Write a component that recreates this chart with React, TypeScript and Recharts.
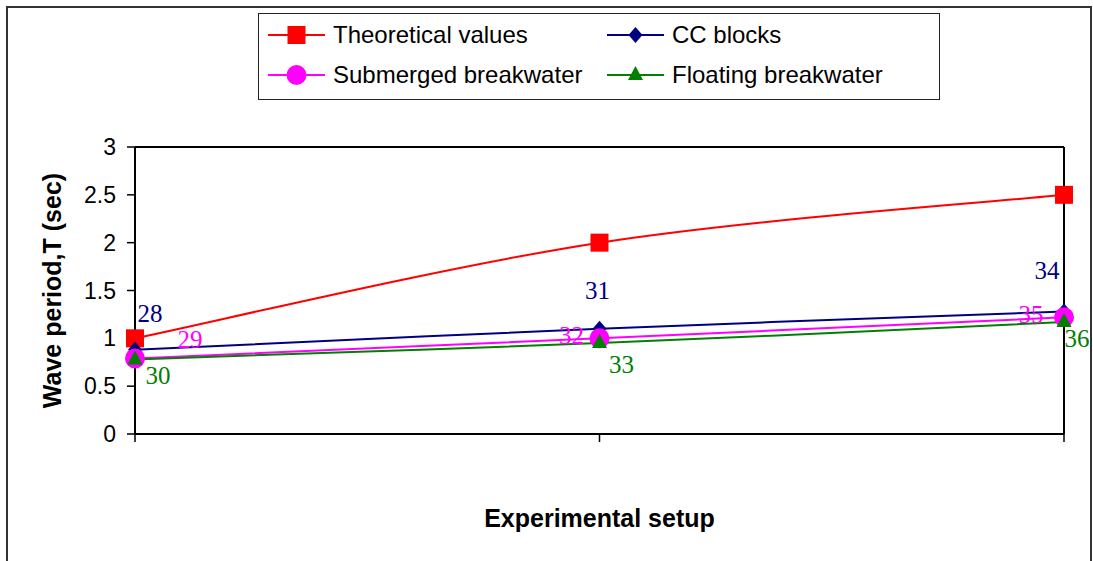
import React from 'react';
import {
  LineChart,
  Line,
  XAxis,
  YAxis,
  Legend,
  ReferenceLine,
  LabelList,
} from 'recharts';

// Experimental setups (categories on the x axis, not labelled on the chart)
const setups = ['Setup 1', 'Setup 2', 'Setup 3'];

// Wave period T (sec) per series
const theoretical = [1.0, 2.0, 2.5];
const ccBlocks = [0.88, 1.1, 1.28];
const submerged = [0.79, 1.0, 1.22];
const floating = [0.78, 0.95, 1.17];

// Point annotations
const ccLabels = ['28', '31', '34'];
const submergedLabels = ['29', '32', '35'];
const floatingLabels = ['30', '33', '36'];

const yTicks = [0, 0.5, 1, 1.5, 2, 2.5, 3];

const data = setups.map((setup, i) => ({
  setup,
  theoretical: theoretical[i],
  cc: ccBlocks[i],
  submerged: submerged[i],
  floating: floating[i],
  ccLabel: ccLabels[i],
  submergedLabel: submergedLabels[i],
  floatingLabel: floatingLabels[i],
}));

const RED = '#FF0000';
const NAVY = '#000080';
const MAGENTA = '#FF00FF';
const GREEN = '#008000';

const SANS = '"Liberation Sans", Arial, sans-serif';
const SERIF = '"Liberation Serif", "Times New Roman", serif';

// Spreadsheet-style smoothed line: cubic Bezier segments whose control
// points follow the neighbouring points (Catmull-Rom with 1/6 tension).
const smoothCurve: any = (context: any) => {
  let pts: number[][] = [];
  return {
    areaStart() {},
    areaEnd() {},
    lineStart() {
      pts = [];
    },
    point(x: number, y: number) {
      pts.push([+x, +y]);
    },
    lineEnd() {
      if (!pts.length) return;
      context.moveTo(pts[0][0], pts[0][1]);
      for (let i = 0; i < pts.length - 1; i++) {
        const p0 = pts[i - 1] || pts[i];
        const p1 = pts[i];
        const p2 = pts[i + 1];
        const p3 = pts[i + 2] || pts[i + 1];
        const c1x = p1[0] + (p2[0] - p0[0]) / 6;
        const c1y = p1[1] + (p2[1] - p0[1]) / 6;
        const c2x = p2[0] - (p3[0] - p1[0]) / 6;
        const c2y = p2[1] - (p3[1] - p1[1]) / 6;
        context.bezierCurveTo(c1x, c1y, c2x, c2y, p2[0], p2[1]);
      }
    },
  };
};

// Annotation placement relative to each point (dx, dy of the text centre)
const LABEL_SHIFT: Record<string, number[][]> = {
  cc: [[15, -36], [-2, -38], [-17, -41]],
  submerged: [[55, -19], [-28, -3], [-33, -3]],
  floating: [[23, 16], [22, 21], [13, 16]],
};

const makeLabel = (key: string, color: string) => (props: any) => {
  const { x, y, value, index } = props;
  const [dx, dy] = LABEL_SHIFT[key][index] || [0, 0];
  return (
    <text
      key={`${key}-lbl-${index}`}
      x={x + dx}
      y={y + dy}
      fill={color}
      fontFamily={SERIF}
      fontSize={25}
      textAnchor="middle"
      dominantBaseline="central"
    >
      {value}
    </text>
  );
};

// Marker shapes
const Square = ({ cx, cy, size = 18, color }: any) => (
  <rect x={cx - size / 2} y={cy - size / 2} width={size} height={size} fill={color} />
);
const Diamond = ({ cx, cy, color }: any) => (
  <path d={`M${cx},${cy - 8} L${cx + 7},${cy} L${cx},${cy + 8} L${cx - 7},${cy} Z`} fill={color} />
);
const Circle = ({ cx, cy, color }: any) => <circle cx={cx} cy={cy} r={10} fill={color} />;
const Triangle = ({ cx, cy, color }: any) => (
  <path d={`M${cx},${cy - 9} L${cx + 7.5},${cy + 5} L${cx - 7.5},${cy + 5} Z`} fill={color} />
);

const markerFor: Record<string, (p: any) => React.ReactElement> = {
  theoretical: (p) => <Square {...p} />,
  cc: (p) => <Diamond {...p} />,
  submerged: (p) => <Circle {...p} />,
  floating: (p) => <Triangle {...p} />,
};

const makeDot = (key: string, color: string) => (props: any) => {
  const { cx, cy, index } = props;
  return <g key={`${key}-dot-${index}`}>{markerFor[key]({ cx, cy, color })}</g>;
};

// Legend: boxed 2 x 2 grid
const legendSlots: Record<string, { left: number; top: number }> = {
  theoretical: { left: 9, top: 7 },
  cc: { left: 348, top: 7 },
  submerged: { left: 9, top: 47 },
  floating: { left: 348, top: 47 },
};

const renderLegend = (props: any) => {
  const { payload = [] } = props;
  return (
    <div
      style={{
        position: 'relative',
        width: 682,
        height: 87,
        boxSizing: 'border-box',
        border: '1.5px solid #222',
        background: '#fff',
      }}
    >
      {payload.map((item: any) => {
        const key = item.dataKey as string;
        const slot = legendSlots[key];
        if (!slot) return null;
        return (
          <div
            key={key}
            style={{
              position: 'absolute',
              left: slot.left,
              top: slot.top,
              height: 28,
              display: 'flex',
              alignItems: 'center',
              whiteSpace: 'nowrap',
            }}
          >
            <svg width={57} height={28} style={{ display: 'block' }}>
              <line x1={0} y1={14} x2={57} y2={14} stroke={item.color} strokeWidth={2} />
              {markerFor[key]({ cx: 28.5, cy: 14, color: item.color })}
            </svg>
            <span
              style={{
                marginLeft: 8,
                fontFamily: SANS,
                fontSize: 24,
                color: '#000',
                lineHeight: '28px',
              }}
            >
              {item.value}
            </span>
          </div>
        );
      })}
    </div>
  );
};

const YTitle = (props: any) => {
  const { viewBox } = props;
  const x = viewBox.x + 52;
  const y = viewBox.y + viewBox.height / 2;
  return (
    <text
      x={x}
      y={y}
      transform={`rotate(-90, ${x}, ${y})`}
      textAnchor="middle"
      dominantBaseline="central"
      fontFamily={SANS}
      fontWeight="bold"
      fontSize={25}
      fill="#000"
    >
      Wave period,T (sec)
    </text>
  );
};

const XTitle = (props: any) => {
  const { viewBox } = props;
  const x = viewBox.x + viewBox.width / 2;
  const y = viewBox.y + 84;
  return (
    <text
      x={x}
      y={y}
      textAnchor="middle"
      dominantBaseline="central"
      fontFamily={SANS}
      fontWeight="bold"
      fontSize={25}
      fill="#000"
    >
      Experimental setup
    </text>
  );
};

export default function App() {
  return (
    <div
      style={{
        position: 'absolute',
        left: 0,
        top: 0,
        width: 1093,
        height: 561,
        background: '#fff',
        overflow: 'hidden',
      }}
    >
      {/* chart-area frame */}
      <div
        style={{
          position: 'absolute',
          left: 6,
          top: 6,
          width: 1086,
          height: 570,
          boxSizing: 'border-box',
          border: '2px solid #333',
        }}
      />
      <LineChart
        width={1093}
        height={561}
        data={data}
        margin={{ top: 147, right: 29, bottom: 87, left: 0 }}
        style={{ position: 'absolute', left: 0, top: 0 }}
      >
        <XAxis
          dataKey="setup"
          type="category"
          height={40}
          tickSize={8}
          tickFormatter={() => ''}
          axisLine={{ stroke: '#000', strokeWidth: 2 }}
          tickLine={{ stroke: '#000', strokeWidth: 1.5 }}
          label={<XTitle />}
        />
        <YAxis
          type="number"
          domain={[0, 3]}
          ticks={yTicks}
          width={135}
          tickSize={8}
          tickMargin={11}
          interval={0}
          axisLine={{ stroke: '#000', strokeWidth: 2 }}
          tickLine={{ stroke: '#000', strokeWidth: 1.5 }}
          tick={{ fill: '#000', fontSize: 23, fontFamily: SANS }}
          label={<YTitle />}
        />
        <ReferenceLine y={3} stroke="#000" strokeWidth={2} />
        <ReferenceLine x="Setup 3" stroke="#000" strokeWidth={2} />
        <Legend
          layout="horizontal"
          align="center"
          verticalAlign="middle"
          content={renderLegend}
          wrapperStyle={{ position: 'absolute', left: 258, top: 13, width: 682, height: 87 }}
        />
        <Line
          name="Theoretical values"
          dataKey="theoretical"
          type={smoothCurve}
          stroke={RED}
          strokeWidth={2}
          dot={makeDot('theoretical', RED)}
          activeDot={false}
          isAnimationActive={false}
        />
        <Line
          name="CC blocks"
          dataKey="cc"
          type={smoothCurve}
          stroke={NAVY}
          strokeWidth={2}
          dot={makeDot('cc', NAVY)}
          activeDot={false}
          isAnimationActive={false}
        >
          <LabelList dataKey="ccLabel" content={makeLabel('cc', NAVY)} />
        </Line>
        <Line
          name="Submerged breakwater"
          dataKey="submerged"
          type={smoothCurve}
          stroke={MAGENTA}
          strokeWidth={2}
          dot={makeDot('submerged', MAGENTA)}
          activeDot={false}
          isAnimationActive={false}
        >
          <LabelList dataKey="submergedLabel" content={makeLabel('submerged', MAGENTA)} />
        </Line>
        <Line
          name="Floating breakwater"
          dataKey="floating"
          type={smoothCurve}
          stroke={GREEN}
          strokeWidth={2}
          dot={makeDot('floating', GREEN)}
          activeDot={false}
          isAnimationActive={false}
        >
          <LabelList dataKey="floatingLabel" content={makeLabel('floating', GREEN)} />
        </Line>
      </LineChart>
    </div>
  );
}
